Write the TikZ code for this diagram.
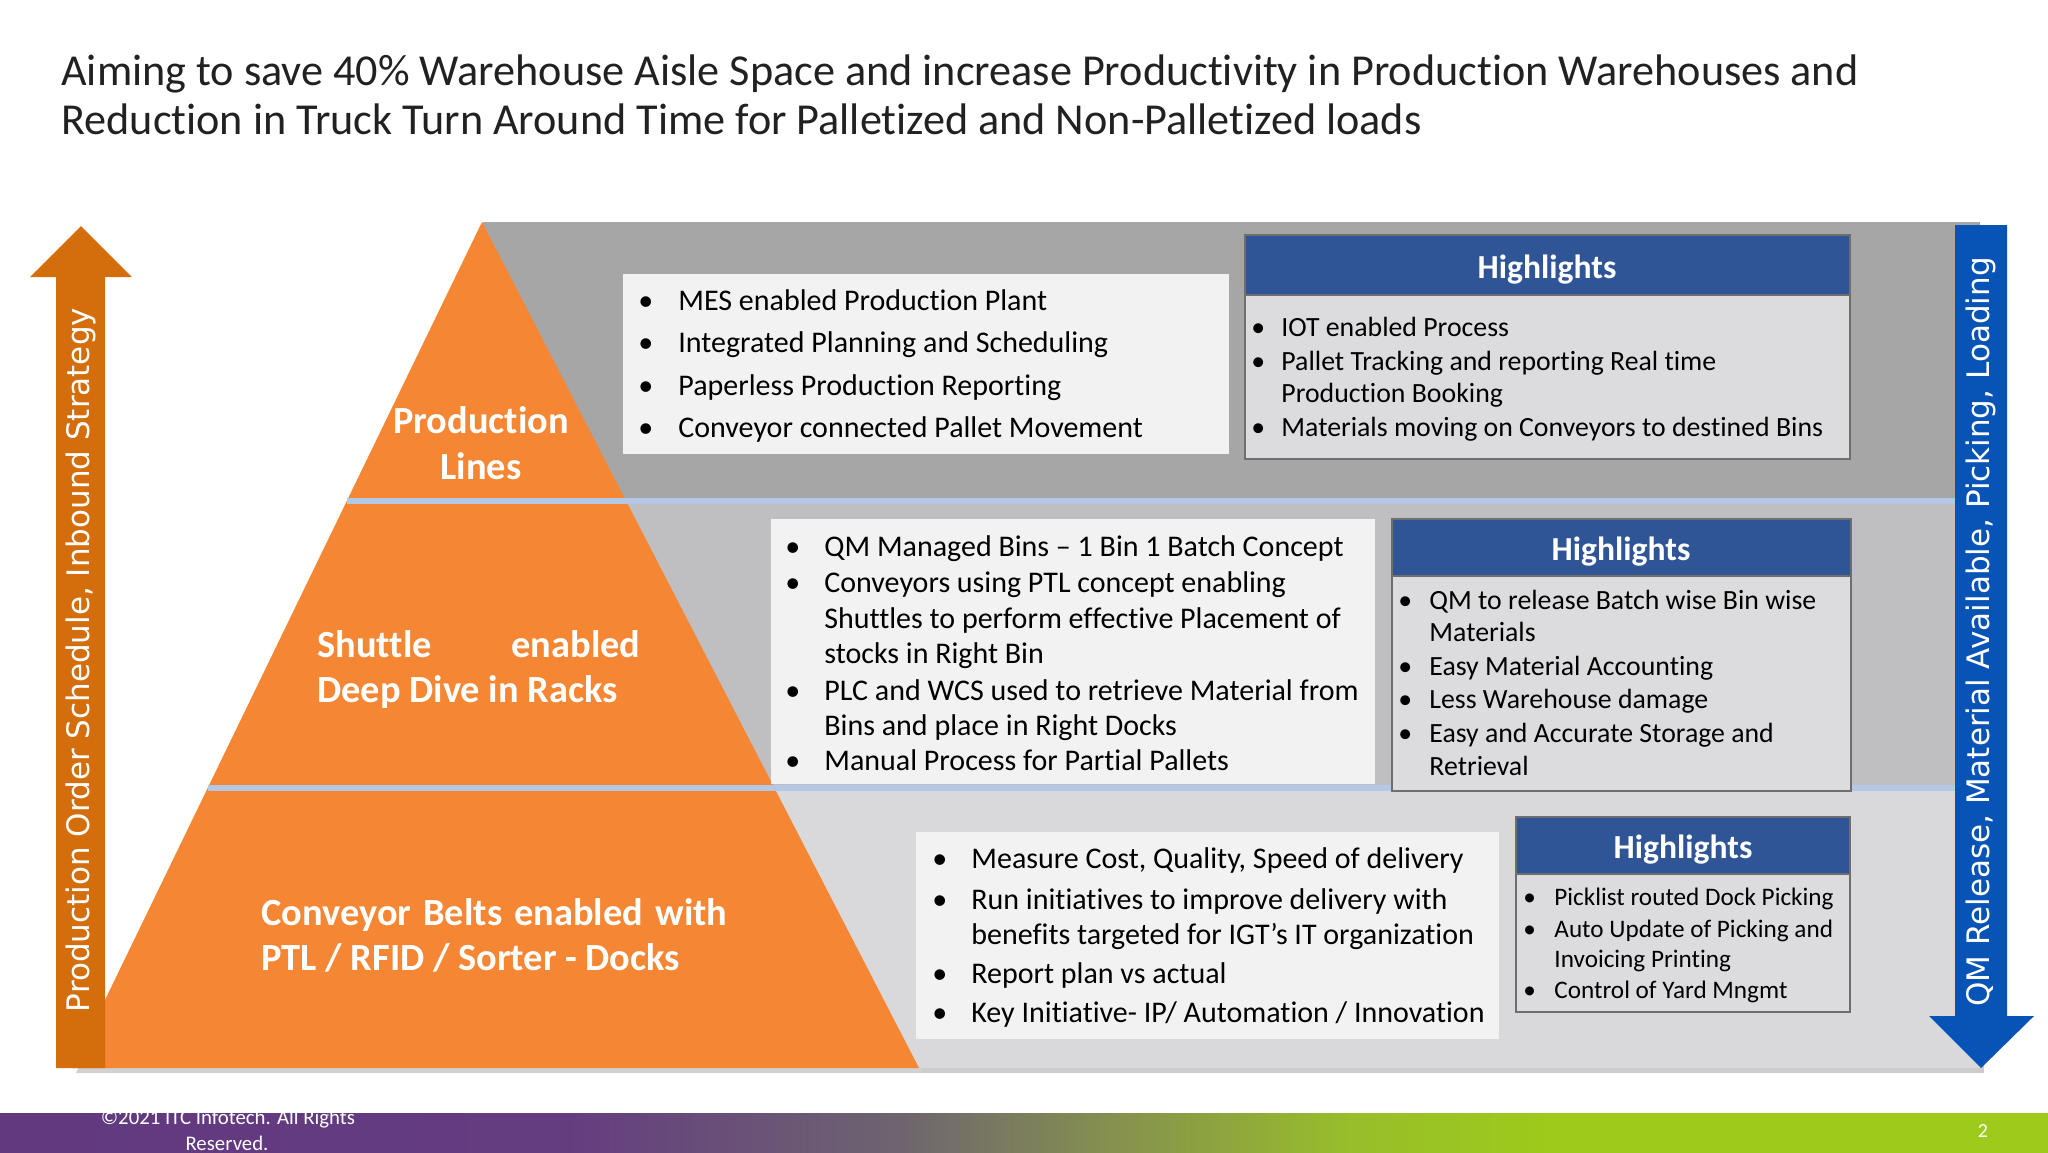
\documentclass[tikz,border=0pt]{standalone}
\usepackage{fontspec}
\setmainfont{Carlito}[Ligatures={TeX,NoCommon}]
\newfontfamily\vfont{DejaVu Sans}
\definecolor{band1}{HTML}{A6A6A6}
\definecolor{band2}{HTML}{BFBFC1}
\definecolor{band3}{HTML}{D9D9DB}
\definecolor{triorange}{HTML}{F58634}
\definecolor{arroworange}{HTML}{D46E0D}
\definecolor{arrowblue}{HTML}{0853B6}
\definecolor{sepblue}{HTML}{B4C7E7}
\definecolor{hblue}{HTML}{2F5597}
\definecolor{hbody}{HTML}{DCDCDE}
\definecolor{hborder}{HTML}{6E6E6E}
\definecolor{listfill}{HTML}{F2F2F3}
\definecolor{fpurple}{HTML}{62397F}
\definecolor{fpurpleb}{HTML}{643C80}
\definecolor{fbrown}{HTML}{6E6470}
\definecolor{folive}{HTML}{848E50}
\definecolor{fgreenA}{HTML}{98BE2A}
\definecolor{fgreen}{HTML}{9DCA1B}
\pgfdeclarehorizontalshading{footershade}{100bp}{color(0bp)=(fpurple); color(25bp)=(fpurple); color(38.67bp)=(fpurpleb); color(46.97bp)=(fbrown); color(51.86bp)=(folive); color(57.96bp)=(fgreenA); color(62.84bp)=(fgreen); color(75bp)=(fgreen); color(100bp)=(fgreen)}
\begin{document}
\begin{tikzpicture}[x=0.5pt,y=-0.5pt,
  li/.style={anchor=base west, inner sep=0pt, font=\fontsize{15}{17}\selectfont, text=black},
  hi/.style={anchor=base west, inner sep=0pt, font=\fontsize{13.9}{16}\selectfont, text=black},
  hthree/.style={anchor=base west, inner sep=0pt, font=\fontsize{12.6}{15}\selectfont, text=black},
  hbox/.style={fill=hbody, draw=hborder, line width=0.8pt},
  hhead/.style={fill=hblue, draw=hborder, line width=0.8pt},
  htitle/.style={font=\bfseries\fontsize{16.8}{20}\selectfont, text=white, inner sep=0pt},
  trilabel/.style={font=\bfseries\fontsize{19.2}{23}\selectfont, text=white, inner sep=0pt, anchor=base west},
  sepline/.style={draw=sepblue, line width=3pt},
  vtext/.style={font=\vfont\fontsize{15.5}{18}\selectfont, text=white, rotate=90, inner sep=0pt},
  ttl/.style={anchor=base west, inner sep=0pt, font=\fontsize{22.1}{26}\selectfont, text=black!87},
]
\useasboundingbox (0,0) rectangle (2048,1152);
\fill[white] (0,0) rectangle (2048,1152);

% title
\node[ttl] (title1) at (61,85) {Aiming to save 40\% Warehouse Aisle Space and increase Productivity in Production Warehouses and};
\node[ttl] (title2) at (61,134) {Reduction in Truck Turn Around Time for Palletized and Non-Palletized loads};

% shadows
\fill[black!20] (486,226) rectangle (1984,1073);
\fill[black!18] (486,227) -- (923,1073) -- (76,1073) -- cycle;

% panel bands
\fill[band1] (483,222) rectangle (1980,501);
\fill[band2] (483,501) rectangle (1980,788);
\fill[band3] (483,788) rectangle (1980,1068);

% pyramid
\fill[triorange] (482,222) -- (919,1068) -- (72,1068) -- cycle;

% separator lines
\draw[sepline] (347,501) -- (1958,501);
\draw[sepline] (208,788) -- (1958,788);

% left arrow
\fill[arroworange] (56,1068) -- (56,277) -- (30,277) -- (81,226) -- (132,277) -- (105,277) -- (105,1068) -- cycle;
\node[vtext] (lefttext) at (81,660) {Production Order Schedule, Inbound Strategy};

% right arrow
\fill[arrowblue] (1955,225) -- (2007,225) -- (2007,1016) -- (2034,1016) -- (1981,1068) -- (1929,1016) -- (1955,1016) -- cycle;
\node[vtext] (righttext) at (1981,632) {QM Release, Material Available, Picking, Loading};

% pyramid labels
\node[trilabel, anchor=base] (pl1) at (481,433) {Production};
\node[trilabel, anchor=base] (pl2) at (481,479) {Lines};
\node[trilabel] (sh1) at (317,657) {\makebox[161.5pt][s]{Shuttle\hfill enabled}};
\node[trilabel] (sh2) at (317,702) {Deep Dive in Racks};
\node[trilabel] (cb1) at (261,925) {\makebox[233pt][s]{Conveyor Belts enabled with}};
\node[trilabel] (cb2) at (261,970) {PTL / RFID / Sorter - Docks};

% ---------- box A ----------
\fill[listfill] (623,274) rectangle (1229,454);
\foreach \t/\y [count=\i] in {MES enabled Production Plant/310, Integrated Planning and Scheduling/352, Paperless Production Reporting/395, Conveyor connected Pallet Movement/437}{
  \node[li] (ab\i) at (638,\y) {\textbullet};
  \node[li] (at\i) at (678,\y) {\t};
}

% ---------- highlights 1 ----------
\fill[hbox] (1245,235) rectangle (1850,459);
\fill[hhead] (1245,235) rectangle (1850,295);
\node[htitle] (h1title) at (1547,270) {Highlights};
\node[hi] (h1b1) at (1251,336) {\textbullet};
\node[hi] (h1t1) at (1281,336) {IOT enabled Process};
\node[hi] (h1b2) at (1251,370) {\textbullet};
\node[hi] (h1t2) at (1281,370) {Pallet Tracking and reporting Real time};
\node[hi] (h1t3) at (1281,402) {Production Booking};
\node[hi] (h1b4) at (1251,436) {\textbullet};
\node[hi] (h1t4) at (1281,436) {Materials moving on Conveyors to destined Bins};

% ---------- box B ----------
\fill[listfill] (771,519) rectangle (1375,784);
\node[li] (bb1) at (785,556) {\textbullet};
\node[li] (bt1) at (824,556) {QM Managed Bins – 1 Bin 1 Batch Concept};
\node[li] (bb2) at (785,592) {\textbullet};
\node[li] (bt2) at (824,592) {Conveyors using PTL concept enabling};
\node[li] (bt3) at (824,628) {Shuttles to perform effective Placement of};
\node[li] (bt4) at (824,663) {stocks in Right Bin};
\node[li] (bb5) at (785,700) {\textbullet};
\node[li] (bt5) at (824,700) {PLC and WCS used to retrieve Material from};
\node[li] (bt6) at (824,735) {Bins and place in Right Docks};
\node[li] (bb7) at (785,770) {\textbullet};
\node[li] (bt7) at (824,770) {Manual Process for Partial Pallets};

% ---------- highlights 2 ----------
\fill[hbox] (1392,519) rectangle (1851,791);
\fill[hhead] (1392,519) rectangle (1851,576);
\node[htitle] (h2title) at (1621,552) {Highlights};
\node[hi] (h2b1) at (1398,609) {\textbullet};
\node[hi] (h2t1) at (1429,609) {QM to release Batch wise Bin wise};
\node[hi] (h2t2) at (1429,641) {Materials};
\node[hi] (h2b3) at (1398,675) {\textbullet};
\node[hi] (h2t3) at (1429,675) {Easy Material Accounting};
\node[hi] (h2b4) at (1398,708) {\textbullet};
\node[hi] (h2t4) at (1429,708) {Less Warehouse damage};
\node[hi] (h2b5) at (1398,742) {\textbullet};
\node[hi] (h2t5) at (1429,742) {Easy and Accurate Storage and};
\node[hi] (h2t6) at (1429,775) {Retrieval};

% ---------- box C ----------
\fill[listfill] (916,832) rectangle (1499,1039);
\node[li] (cb1b) at (932,868) {\textbullet};
\node[li] (ct1) at (971,868) {Measure Cost, Quality, Speed of delivery};
\node[li] (cb2b) at (932,909) {\textbullet};
\node[li] (ct2) at (971,909) {Run initiatives to improve delivery with};
\node[li] (ct3) at (971,944) {benefits targeted for IGT’s IT organization};
\node[li] (cb4b) at (932,983) {\textbullet};
\node[li] (ct4) at (971,983) {Report plan vs actual};
\node[li] (cb5b) at (932,1022) {\textbullet};
\node[li] (ct5) at (971,1022) {Key Initiative- IP/ Automation / Innovation};

% ---------- highlights 3 ----------
\fill[hbox] (1516,817) rectangle (1850,1012);
\fill[hhead] (1516,817) rectangle (1850,874);
\node[htitle] (h3title) at (1683,850) {Highlights};
\node[hthree] (h3b1) at (1523,905) {\textbullet};
\node[hthree] (h3t1) at (1554,905) {Picklist routed Dock Picking};
\node[hthree] (h3b2) at (1523,937) {\textbullet};
\node[hthree] (h3t2) at (1554,937) {Auto Update of Picking and};
\node[hthree] (h3t3) at (1554,967) {Invoicing Printing};
\node[hthree] (h3b4) at (1523,998) {\textbullet};
\node[hthree] (h3t4) at (1554,998) {Control of Yard Mngmt};

% ---------- footer ----------
\shade[shading=footershade] (0,1113) rectangle (2048,1152);
\node[anchor=base, inner sep=0pt, font=\fontsize{10.4}{13}\selectfont, text=white] (foot1) at (228,1124) {©2021 ITC Infotech. All Rights};
\node[anchor=base, inner sep=0pt, font=\fontsize{10.4}{13}\selectfont, text=white] (foot2) at (227,1150) {Reserved.};
\fill[white] (0,1080) rectangle (500,1113);
\node[anchor=center, inner sep=0pt, font=\fontsize{10}{12}\selectfont, text=white] (pagenum) at (1983,1131) {2};
\end{tikzpicture}
\end{document}
